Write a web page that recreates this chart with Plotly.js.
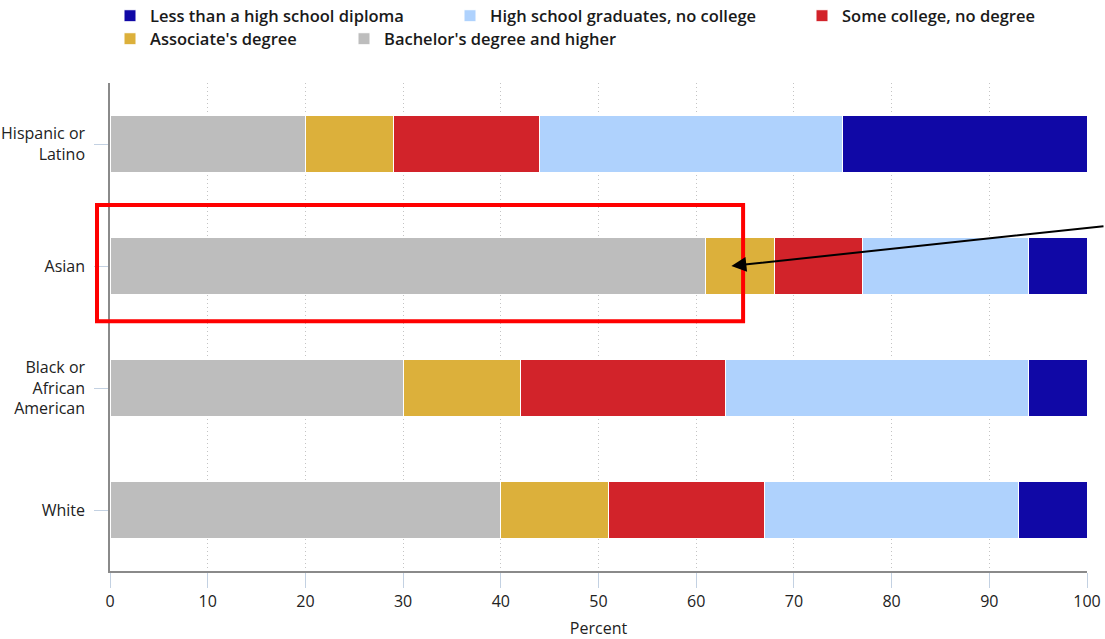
<!DOCTYPE html>
<html>
<head>
<meta charset="utf-8">
<script src="https://cdn.plot.ly/plotly-3.0.1.min.js"></script>
<style>html,body{margin:0;padding:0;background:#fff;}#chart{width:1105px;height:639px;}</style>
</head>
<body>
<div id="chart"></div>
<script>
const categories = ["Hispanic or<br>Latino", "Asian", "Black or<br>African<br>American", "White"];
const bachelors = [20, 61, 30, 40];
const associates = [9, 7, 12, 11];
const someCollege = [15, 9, 21, 16];
const highSchool = [31, 17, 31, 26];
const lessThanHS = [25, 6, 6, 7];
const xTicks = [0, 10, 20, 30, 40, 50, 60, 70, 80, 90, 100];

const seriesNames = ["Bachelor's degree and higher", "Associate's degree", "Some college, no degree", "High school graduates, no college", "Less than a high school diploma"];
const seriesValues = [bachelors, associates, someCollege, highSchool, lessThanHS];
const seriesColors = ["#bdbdbd", "#dcb03b", "#d2232a", "#afd2fd", "#1008a6"];
const seriesLegends = ["legend5", "legend4", "legend3", "legend2", "legend"];

const traces = seriesNames.map((n, i) => ({
  type: "bar",
  orientation: "h",
  name: n,
  y: categories,
  x: seriesValues[i],
  marker: {color: seriesColors[i], line: {color: "#ffffff", width: 1}},
  legend: seriesLegends[i],
  showlegend: true,
  hoverinfo: "x+name"
}));

const W = 1105, H = 639;
function leg(px, py) {
  return {
    x: px / W, y: 1 - py / H, xref: "container", yref: "container",
    xanchor: "left", yanchor: "middle", orientation: "h", visible: true,
    bgcolor: "rgba(0,0,0,0)", borderwidth: 0,
    font: {family: "Open Sans, sans-serif", size: 16.5, color: "#1a1a1a", weight: 600}
  };
}

const layout = {
  width: W, height: H,
  showlegend: true,
  margin: {l: 110, r: 18, t: 83, b: 68},
  paper_bgcolor: "#ffffff", plot_bgcolor: "#ffffff",
  barmode: "stack",
  bargap: 0.53,
  font: {family: "Open Sans, sans-serif", size: 16, color: "#222"},
  legend: leg(110, 16),
  legend2: leg(450, 16),
  legend3: leg(802, 16),
  legend4: leg(110, 39),
  legend5: leg(344, 39),
  xaxis: {
    range: [0, 100], tickvals: xTicks, ticktext: xTicks.map(String),
    showgrid: true, gridcolor: "#c4c4c4", griddash: "1px,3px", gridwidth: 1.2,
    zeroline: false, showline: true, linecolor: "#8a8a8a", linewidth: 1.5,
    ticks: "outside", ticklen: 15, tickcolor: "#c3d1e2", tickwidth: 1,
    tickfont: {size: 16, color: "#222"},
    title: {text: "Percent", font: {size: 16, color: "#222"}, standoff: 17}
  },
  yaxis: {
    categoryorder: "array", categoryarray: categories, autorange: "reversed",
    showgrid: false, zeroline: false, showline: true, linecolor: "#8a8a8a", linewidth: 1.5,
    ticks: "outside", ticklen: 14, tickcolor: "#c3d1e2", tickwidth: 1,
    ticklabelstandoff: 6,
    tickfont: {size: 16, color: "#222"}
  },
  shapes: [{
    type: "rect", xref: "paper", yref: "paper",
    x0: -0.0133, x1: 0.648, y0: 0.512, y1: 0.75,
    line: {color: "#ff0000", width: 4}, fillcolor: "rgba(0,0,0,0)", layer: "above"
  }],
  annotations: [{
    x: 63.6, y: "Asian", xref: "x", yref: "y",
    text: "", showarrow: true, arrowhead: 2, arrowsize: 1.5, arrowwidth: 2, arrowcolor: "#000",
    ax: 390, ay: -40, standoff: 0
  }]
};

Plotly.newPlot("chart", traces, layout, {displayModeBar: false, responsive: false});
</script>
</body>
</html>
